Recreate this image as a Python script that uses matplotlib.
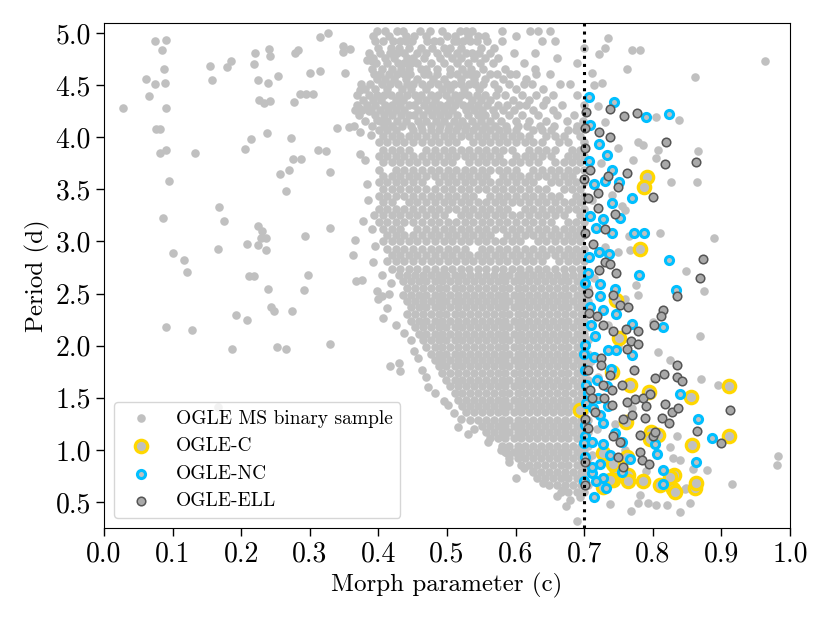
import numpy as np
import matplotlib
matplotlib.use("Agg")
from matplotlib import pyplot as plt
from matplotlib.ticker import FormatStrFormatter

plt.rcParams['font.family'] = 'serif'
plt.rcParams['font.serif'] = ['cmr10']
plt.rcParams['mathtext.fontset'] = 'cm'
plt.rcParams['axes.unicode_minus'] = False

# --- OGLE MS binary sample (morph c, period d) ---
# sparse part at low morph parameter
sample_left = [
    (0.074, 4.92), (0.091, 4.93), (0.084, 4.84), (0.087, 4.66), (0.061, 4.56), (0.074, 4.51),
    (0.089, 4.52), (0.066, 4.40), (0.028, 4.28), (0.091, 4.28), (0.076, 4.08), (0.082, 4.08),
    (0.082, 3.85), (0.091, 3.88), (0.133, 3.85), (0.095, 3.58), (0.086, 3.23), (0.168, 3.33),
    (0.175, 3.20), (0.100, 2.89), (0.116, 2.82), (0.121, 2.71), (0.090, 2.18), (0.129, 2.15),
    (0.186, 1.97), (0.252, 1.99), (0.266, 1.97), (0.329, 2.02), (0.192, 2.29), (0.209, 2.25),
    (0.243, 2.37), (0.248, 2.33), (0.274, 2.33), (0.239, 2.54), (0.292, 2.53), (0.212, 2.67),
    (0.219, 2.67), (0.297, 2.68), (0.166, 2.93), (0.209, 2.98), (0.225, 2.97), (0.236, 2.92),
    (0.225, 3.15), (0.231, 3.10), (0.229, 3.03), (0.236, 3.03), (0.293, 3.05), (0.329, 3.13),
    (0.366, 3.01), (0.363, 2.87), (0.367, 2.62), (0.376, 2.63), (0.400, 2.45), (0.390, 3.12),
    (0.394, 3.25), (0.395, 2.96), (0.205, 3.89), (0.214, 3.98), (0.237, 4.04), (0.272, 3.99),
    (0.276, 3.79), (0.287, 3.79), (0.257, 3.65), (0.269, 3.69), (0.265, 3.48), (0.312, 3.88),
    (0.323, 3.87), (0.330, 3.67), (0.339, 4.09), (0.357, 4.10), (0.373, 4.05), (0.389, 4.02),
    (0.373, 3.84), (0.380, 3.78), (0.383, 3.55), (0.154, 4.68), (0.158, 4.55), (0.180, 4.67),
    (0.185, 4.73), (0.220, 4.81), (0.219, 4.70), (0.240, 4.85), (0.242, 4.78), (0.225, 4.55),
    (0.239, 4.52), (0.253, 4.59), (0.226, 4.36), (0.233, 4.33), (0.242, 4.35), (0.277, 4.34),
    (0.278, 4.81), (0.283, 4.84), (0.285, 4.42), (0.294, 4.42), (0.304, 4.42), (0.301, 4.62),
    (0.315, 4.64), (0.315, 4.96), (0.327, 5.00), (0.349, 4.88), (0.348, 4.82), (0.358, 4.85),
    (0.352, 4.62), (0.373, 4.45), (0.366, 4.26), (0.372, 4.28), (0.386, 4.25), (0.384, 4.74),
    (0.390, 4.73), (0.398, 4.17), (0.166, 1.41), (0.385, 3.40), (0.378, 3.20), (0.392, 2.80),
]

# stray points along the left edge of the dense core
sample_edge = [
    (0.405, 2.48), (0.398, 2.52), (0.415, 2.50), (0.407, 2.27), (0.412, 2.36), (0.417, 1.80),
    (0.430, 1.83), (0.432, 1.76), (0.463, 1.77), (0.452, 1.95), (0.448, 2.05), (0.501, 1.43),
    (0.495, 1.47), (0.516, 1.22), (0.520, 1.30), (0.560, 1.08), (0.587, 0.97), (0.600, 0.73),
    (0.612, 0.83), (0.625, 0.80), (0.640, 0.68), (0.669, 0.61), (0.673, 0.46), (0.689, 0.32),
    (0.540, 1.20), (0.578, 1.00), (0.472, 1.60), (0.482, 1.55), (0.425, 2.20), (0.438, 2.12),
    (0.458, 1.88), (0.470, 1.70), (0.510, 1.35), (0.530, 1.15), (0.590, 0.88), (0.680, 0.52),
    (0.694, 0.55), (0.660, 0.56), (0.418, 2.60), (0.405, 2.68),
]

# sample points to the right of the c = 0.7 line
sample_right = [
    (0.726, 4.52), (0.805, 4.19), (0.838, 4.17), (0.778, 3.95), (0.785, 3.93), (0.808, 3.88),
    (0.866, 3.87), (0.771, 3.78), (0.805, 3.80), (0.826, 3.57), (0.864, 3.57), (0.755, 3.34),
    (0.811, 3.08), (0.889, 3.03), (0.765, 3.05), (0.767, 2.92), (0.750, 2.90), (0.848, 2.72),
    (0.776, 2.58), (0.875, 2.52), (0.779, 2.49), (0.800, 2.23), (0.869, 2.09), (0.825, 1.86),
    (0.808, 1.94), (0.870, 1.68), (0.895, 1.62), (0.835, 1.13), (0.825, 1.03), (0.879, 0.81),
    (0.738, 0.48), (0.779, 0.49), (0.793, 0.49), (0.847, 0.62), (0.964, 4.73), (0.862, 4.58),
    (0.768, 0.41), (0.781, 0.57), (0.805, 0.47), (0.820, 0.47), (0.840, 0.40), (0.854, 0.49),
    (0.849, 0.63), (0.916, 0.67), (0.829, 0.92), (0.840, 0.90), (0.859, 0.82), (0.982, 0.94),
    (0.981, 0.85), (0.712, 4.62), (0.722, 4.80), (0.735, 4.95), (0.762, 4.66), (0.730, 4.86),
    (0.770, 4.84), (0.782, 4.84), (0.715, 4.50), (0.720, 4.30), (0.730, 4.15), (0.750, 3.90),
    (0.725, 3.75), (0.740, 3.45), (0.760, 3.30), (0.730, 2.95), (0.715, 2.65), (0.760, 2.45),
    (0.735, 2.20), (0.750, 2.00), (0.720, 1.70), (0.770, 1.40), (0.745, 1.25), (0.730, 0.90),
    (0.760, 1.00), (0.790, 0.80), (0.712, 0.95), (0.718, 1.20), (0.710, 1.85), (0.712, 3.40),
]

# upper, moderately filled part (period 4.1 - 5.0): rows of (period, [morph values])
sample_upper_rows = [
    (5.02, [0.398, 0.410, 0.427, 0.436, 0.461, 0.475, 0.492, 0.519, 0.527, 0.536, 0.580, 0.621, 0.633, 0.650]),
    (4.97, [0.392, 0.415, 0.440, 0.452, 0.470, 0.500, 0.512, 0.530, 0.545, 0.556, 0.600]),
    (4.92, [0.395, 0.407, 0.422, 0.432, 0.440, 0.449, 0.471, 0.481, 0.490, 0.510, 0.515, 0.524, 0.534,
            0.544, 0.558, 0.580, 0.638, 0.658]),
    (4.86, [0.400, 0.418, 0.430, 0.445, 0.462, 0.478, 0.495, 0.505, 0.520, 0.550, 0.568, 0.700]),
    (4.81, [0.386, 0.403, 0.417, 0.427, 0.437, 0.456, 0.470, 0.485, 0.500, 0.514, 0.527, 0.536, 0.546,
            0.563, 0.597, 0.628]),
    (4.76, [0.392, 0.410, 0.423, 0.442, 0.450, 0.466, 0.490, 0.508, 0.520, 0.540, 0.555, 0.575, 0.660]),
    (4.71, [0.396, 0.413, 0.428, 0.437, 0.447, 0.456, 0.476, 0.495, 0.515, 0.530, 0.548, 0.567, 0.612, 0.690]),
    (4.66, [0.390, 0.405, 0.420, 0.433, 0.445, 0.462, 0.470, 0.486, 0.505, 0.522, 0.535, 0.552, 0.585, 0.628]),
    (4.61, [0.393, 0.402, 0.416, 0.427, 0.437, 0.446, 0.466, 0.473, 0.485, 0.505, 0.514, 0.527, 0.534,
            0.543, 0.563, 0.573, 0.592, 0.601, 0.630, 0.650]),
    (4.56, [0.398, 0.410, 0.423, 0.440, 0.456, 0.480, 0.495, 0.520, 0.540, 0.555, 0.582, 0.615]),
    (4.51, [0.374, 0.388, 0.405, 0.417, 0.429, 0.441, 0.451, 0.463, 0.475, 0.487, 0.500, 0.510, 0.520,
            0.532, 0.541, 0.553, 0.569, 0.590, 0.612, 0.624, 0.665, 0.680]),
    (4.46, [0.380, 0.395, 0.412, 0.434, 0.447, 0.470, 0.493, 0.505, 0.525, 0.546, 0.575, 0.600, 0.640]),
    (4.41, [0.369, 0.386, 0.398, 0.408, 0.419, 0.430, 0.441, 0.453, 0.462, 0.476, 0.487, 0.498, 0.511,
            0.521, 0.531, 0.544, 0.556, 0.571, 0.584, 0.610, 0.630, 0.655, 0.690]),
    (4.36, [0.377, 0.392, 0.404, 0.425, 0.436, 0.458, 0.470, 0.482, 0.504, 0.516, 0.537, 0.550, 0.563,
            0.596, 0.620, 0.645]),
    (4.31, [0.369, 0.383, 0.395, 0.410, 0.420, 0.431, 0.445, 0.452, 0.466, 0.478, 0.490, 0.500, 0.512,
            0.523, 0.533, 0.545, 0.558, 0.575, 0.588, 0.605, 0.615, 0.640, 0.668, 0.700]),
    (4.26, [0.376, 0.389, 0.402, 0.414, 0.426, 0.438, 0.458, 0.472, 0.484, 0.496, 0.507, 0.527, 0.540,
            0.551, 0.567, 0.582, 0.598, 0.625, 0.655]),
    (4.21, [0.372, 0.395, 0.408, 0.420, 0.433, 0.445, 0.452, 0.465, 0.478, 0.490, 0.502, 0.515, 0.530,
            0.545, 0.556, 0.570, 0.590, 0.610, 0.632, 0.660, 0.685]),
    (4.16, [0.380, 0.402, 0.413, 0.427, 0.440, 0.458, 0.470, 0.484, 0.496, 0.510, 0.522, 0.537, 0.550,
            0.563, 0.578, 0.600, 0.620, 0.645, 0.675, 0.698]),
    (4.11, [0.364, 0.390, 0.408, 0.420, 0.434, 0.447, 0.462, 0.476, 0.490, 0.503, 0.516, 0.528, 0.543,
            0.556, 0.570, 0.586, 0.604, 0.617, 0.636, 0.656, 0.690]),
]

# middle, densely filled part (period 2.7 - 4.07)
sample_mid_rows = [
    (4.07, [0.401, 0.413, 0.426, 0.451, 0.463, 0.476, 0.488, 0.501, 0.513, 0.526, 0.538, 0.551, 0.563,
            0.576, 0.588, 0.601, 0.626, 0.638, 0.651, 0.676, 0.688]),
    (4.01, [0.407, 0.420, 0.432, 0.445, 0.457, 0.470, 0.482, 0.495, 0.507, 0.520, 0.532, 0.545, 0.557,
            0.570, 0.582, 0.595, 0.607, 0.620, 0.645, 0.657, 0.670, 0.694]),
    (3.95, [0.401, 0.413, 0.426, 0.438, 0.451, 0.463, 0.476, 0.488, 0.501, 0.513, 0.538, 0.551, 0.563,
            0.576, 0.588, 0.601, 0.613, 0.626, 0.638, 0.663, 0.676, 0.700]),
    (3.88, [0.407, 0.420, 0.432, 0.445, 0.470, 0.482, 0.495, 0.507, 0.520, 0.532, 0.545, 0.557, 0.570,
            0.582, 0.595, 0.620, 0.632, 0.645, 0.657, 0.682, 0.694]),
    (3.82, [0.401, 0.413, 0.426, 0.438, 0.451, 0.463, 0.476, 0.488, 0.501, 0.513, 0.526, 0.538, 0.551,
            0.563, 0.576, 0.601, 0.613, 0.626, 0.638, 0.651, 0.676, 0.688, 0.700]),
    (3.76, [0.407, 0.420, 0.432, 0.445, 0.457, 0.470, 0.482, 0.495, 0.507, 0.532, 0.545, 0.557, 0.570,
            0.582, 0.595, 0.607, 0.620, 0.632, 0.657, 0.670, 0.682, 0.694]),
    (3.69, [0.401, 0.426, 0.438, 0.451, 0.463, 0.476, 0.488, 0.501, 0.513, 0.526, 0.538, 0.551, 0.563,
            0.576, 0.588, 0.601, 0.626, 0.638, 0.651, 0.663, 0.676, 0.688, 0.700]),
    (3.63, [0.407, 0.420, 0.432, 0.445, 0.457, 0.470, 0.482, 0.495, 0.507, 0.520, 0.532, 0.545, 0.557,
            0.582, 0.595, 0.607, 0.620, 0.632, 0.645, 0.657, 0.670, 0.682]),
    (3.57, [0.401, 0.413, 0.426, 0.438, 0.451, 0.463, 0.488, 0.501, 0.513, 0.526, 0.538, 0.551, 0.563,
            0.576, 0.588, 0.601, 0.613, 0.626, 0.651, 0.663, 0.676, 0.688, 0.700]),
    (3.50, [0.407, 0.420, 0.432, 0.445, 0.457, 0.470, 0.482, 0.495, 0.507, 0.520, 0.532, 0.545, 0.557,
            0.570, 0.582, 0.595, 0.607, 0.620, 0.632, 0.645, 0.670, 0.682, 0.694]),
    (3.44, [0.401, 0.413, 0.426, 0.438, 0.451, 0.463, 0.476, 0.488, 0.501, 0.513, 0.526, 0.538, 0.563,
            0.576, 0.588, 0.601, 0.613, 0.626, 0.638, 0.651, 0.663, 0.688, 0.700]),
    (3.38, [0.407, 0.420, 0.445, 0.457, 0.470, 0.482, 0.495, 0.507, 0.520, 0.532, 0.545, 0.557, 0.570,
            0.582, 0.595, 0.607, 0.620, 0.632, 0.645, 0.657, 0.670, 0.682, 0.694]),
    (3.31, [0.401, 0.413, 0.426, 0.438, 0.451, 0.463, 0.476, 0.488, 0.501, 0.513, 0.526, 0.538, 0.551,
            0.563, 0.576, 0.588, 0.613, 0.626, 0.638, 0.651, 0.663, 0.676, 0.688, 0.700]),
    (3.25, [0.407, 0.420, 0.432, 0.445, 0.457, 0.470, 0.482, 0.495, 0.520, 0.532, 0.545, 0.557, 0.570,
            0.582, 0.595, 0.607, 0.620, 0.632, 0.645, 0.657, 0.670, 0.694]),
    (3.19, [0.401, 0.413, 0.426, 0.438, 0.451, 0.463, 0.476, 0.488, 0.501, 0.513, 0.526, 0.538, 0.551,
            0.563, 0.576, 0.588, 0.601, 0.613, 0.626, 0.638, 0.651, 0.676, 0.688, 0.700]),
    (3.12, [0.407, 0.420, 0.432, 0.457, 0.470, 0.482, 0.495, 0.507, 0.520, 0.532, 0.545, 0.557, 0.570,
            0.582, 0.595, 0.607, 0.620, 0.632, 0.645, 0.657, 0.670, 0.682, 0.694]),
    (3.06, [0.413, 0.426, 0.438, 0.451, 0.463, 0.476, 0.488, 0.501, 0.513, 0.526, 0.538, 0.551, 0.563,
            0.588, 0.601, 0.613, 0.626, 0.638, 0.651, 0.663, 0.676, 0.688, 0.700]),
    (3.00, [0.407, 0.420, 0.432, 0.445, 0.457, 0.470, 0.482, 0.495, 0.507, 0.520, 0.532, 0.545, 0.557,
            0.570, 0.582, 0.595, 0.607, 0.632, 0.645, 0.657, 0.670, 0.682, 0.694]),
    (2.93, [0.413, 0.426, 0.438, 0.451, 0.463, 0.476, 0.488, 0.501, 0.513, 0.526, 0.551, 0.563, 0.576,
            0.588, 0.601, 0.613, 0.626, 0.638, 0.651, 0.663, 0.676, 0.688, 0.700]),
    (2.87, [0.420, 0.432, 0.445, 0.457, 0.470, 0.482, 0.495, 0.507, 0.520, 0.532, 0.545, 0.557, 0.570,
            0.582, 0.595, 0.607, 0.620, 0.632, 0.645, 0.657, 0.670, 0.682, 0.694]),
    (2.81, [0.413, 0.426, 0.438, 0.451, 0.463, 0.476, 0.488, 0.501, 0.513, 0.526, 0.538, 0.551, 0.563,
            0.576, 0.588, 0.601, 0.613, 0.626, 0.638, 0.663, 0.676, 0.688, 0.700]),
    (2.74, [0.420, 0.432, 0.445, 0.457, 0.470, 0.482, 0.495, 0.507, 0.520, 0.532, 0.545, 0.557, 0.570,
            0.582, 0.595, 0.607, 0.620, 0.632, 0.645, 0.657, 0.670, 0.682, 0.694]),
]

# lower core, nearly solid (period 0.6 - 2.7)
sample_core_rows = [
    (2.68, [0.430, 0.442, 0.453, 0.465, 0.476, 0.488, 0.499, 0.511, 0.522, 0.534, 0.545, 0.557, 0.568,
            0.580, 0.591, 0.603, 0.614, 0.626, 0.637, 0.649, 0.660, 0.672, 0.683, 0.695, 0.705]),
    (2.62, [0.436, 0.447, 0.459, 0.470, 0.482, 0.493, 0.505, 0.516, 0.528, 0.539, 0.551, 0.562, 0.574,
            0.585, 0.597, 0.608, 0.620, 0.631, 0.643, 0.654, 0.666, 0.677, 0.689, 0.700]),
    (2.55, [0.442, 0.453, 0.465, 0.476, 0.488, 0.499, 0.511, 0.522, 0.534, 0.545, 0.557, 0.568, 0.580,
            0.591, 0.603, 0.614, 0.626, 0.637, 0.649, 0.660, 0.672, 0.683, 0.695, 0.705]),
    (2.49, [0.436, 0.447, 0.459, 0.470, 0.482, 0.493, 0.505, 0.516, 0.528, 0.539, 0.551, 0.562, 0.574,
            0.585, 0.597, 0.608, 0.620, 0.631, 0.643, 0.654, 0.666, 0.677, 0.689, 0.700]),
    (2.43, [0.442, 0.453, 0.465, 0.476, 0.488, 0.499, 0.511, 0.522, 0.534, 0.545, 0.557, 0.568, 0.580,
            0.591, 0.603, 0.614, 0.626, 0.637, 0.649, 0.660, 0.672, 0.683, 0.695, 0.705]),
    (2.37, [0.447, 0.459, 0.470, 0.482, 0.493, 0.505, 0.516, 0.528, 0.539, 0.551, 0.562, 0.574, 0.585,
            0.597, 0.608, 0.620, 0.631, 0.643, 0.654, 0.666, 0.677, 0.689, 0.700]),
    (2.30, [0.442, 0.453, 0.465, 0.476, 0.488, 0.499, 0.511, 0.522, 0.534, 0.545, 0.557, 0.568, 0.580,
            0.591, 0.603, 0.614, 0.626, 0.637, 0.649, 0.660, 0.672, 0.683, 0.695, 0.705]),
    (2.24, [0.447, 0.459, 0.470, 0.482, 0.493, 0.505, 0.516, 0.528, 0.539, 0.551, 0.562, 0.574, 0.585,
            0.597, 0.608, 0.620, 0.631, 0.643, 0.654, 0.666, 0.677, 0.689, 0.700]),
    (2.18, [0.453, 0.465, 0.476, 0.488, 0.499, 0.511, 0.522, 0.534, 0.545, 0.557, 0.568, 0.580, 0.591,
            0.603, 0.614, 0.626, 0.637, 0.649, 0.660, 0.672, 0.683, 0.695, 0.705]),
    (2.11, [0.459, 0.470, 0.482, 0.493, 0.505, 0.516, 0.528, 0.539, 0.551, 0.562, 0.574, 0.585, 0.597,
            0.608, 0.620, 0.631, 0.643, 0.654, 0.666, 0.677, 0.689, 0.700]),
    (2.05, [0.465, 0.476, 0.488, 0.499, 0.511, 0.522, 0.534, 0.545, 0.557, 0.568, 0.580, 0.591, 0.603,
            0.614, 0.626, 0.637, 0.649, 0.660, 0.672, 0.683, 0.695, 0.705]),
    (1.99, [0.470, 0.482, 0.493, 0.505, 0.516, 0.528, 0.539, 0.551, 0.562, 0.574, 0.585, 0.597, 0.608,
            0.620, 0.631, 0.643, 0.654, 0.666, 0.677, 0.689, 0.700]),
    (1.92, [0.476, 0.488, 0.499, 0.511, 0.522, 0.534, 0.545, 0.557, 0.568, 0.580, 0.591, 0.603, 0.614,
            0.626, 0.637, 0.649, 0.660, 0.672, 0.683, 0.695, 0.705]),
    (1.86, [0.482, 0.493, 0.505, 0.516, 0.528, 0.539, 0.551, 0.562, 0.574, 0.585, 0.597, 0.608, 0.620,
            0.631, 0.643, 0.654, 0.666, 0.677, 0.689, 0.700]),
    (1.80, [0.488, 0.499, 0.511, 0.522, 0.534, 0.545, 0.557, 0.568, 0.580, 0.591, 0.603, 0.614, 0.626,
            0.637, 0.649, 0.660, 0.672, 0.683, 0.695, 0.705]),
    (1.74, [0.493, 0.505, 0.516, 0.528, 0.539, 0.551, 0.562, 0.574, 0.585, 0.597, 0.608, 0.620, 0.631,
            0.643, 0.654, 0.666, 0.677, 0.689, 0.700]),
    (1.67, [0.499, 0.511, 0.522, 0.534, 0.545, 0.557, 0.568, 0.580, 0.591, 0.603, 0.614, 0.626, 0.637,
            0.649, 0.660, 0.672, 0.683, 0.695, 0.705]),
    (1.61, [0.505, 0.516, 0.528, 0.539, 0.551, 0.562, 0.574, 0.585, 0.597, 0.608, 0.620, 0.631, 0.643,
            0.654, 0.666, 0.677, 0.689, 0.700]),
    (1.55, [0.511, 0.522, 0.534, 0.545, 0.557, 0.568, 0.580, 0.591, 0.603, 0.614, 0.626, 0.637, 0.649,
            0.660, 0.672, 0.683, 0.695, 0.705]),
    (1.48, [0.516, 0.528, 0.539, 0.551, 0.562, 0.574, 0.585, 0.597, 0.608, 0.620, 0.631, 0.643, 0.654,
            0.666, 0.677, 0.689, 0.700]),
    (1.42, [0.522, 0.534, 0.545, 0.557, 0.568, 0.580, 0.591, 0.603, 0.614, 0.626, 0.637, 0.649, 0.660,
            0.672, 0.683, 0.695, 0.705]),
    (1.36, [0.528, 0.539, 0.551, 0.562, 0.574, 0.585, 0.597, 0.608, 0.620, 0.631, 0.643, 0.654, 0.666,
            0.677, 0.689, 0.700]),
    (1.29, [0.534, 0.545, 0.557, 0.568, 0.580, 0.591, 0.603, 0.614, 0.626, 0.637, 0.649, 0.660, 0.672,
            0.683, 0.695, 0.705]),
    (1.23, [0.551, 0.562, 0.574, 0.585, 0.597, 0.608, 0.620, 0.631, 0.643, 0.654, 0.666, 0.677, 0.689, 0.700]),
    (1.17, [0.557, 0.568, 0.580, 0.591, 0.603, 0.614, 0.626, 0.637, 0.649, 0.660, 0.672, 0.683, 0.695, 0.705]),
    (1.11, [0.562, 0.574, 0.585, 0.597, 0.608, 0.620, 0.631, 0.643, 0.654, 0.666, 0.677, 0.689, 0.700]),
    (1.04, [0.580, 0.591, 0.603, 0.614, 0.626, 0.637, 0.649, 0.660, 0.672, 0.683, 0.695, 0.705]),
    (0.98, [0.585, 0.597, 0.608, 0.620, 0.631, 0.643, 0.654, 0.666, 0.677, 0.689, 0.700]),
    (0.92, [0.591, 0.603, 0.614, 0.626, 0.637, 0.649, 0.660, 0.672, 0.683, 0.695, 0.705]),
    (0.85, [0.608, 0.620, 0.631, 0.643, 0.654, 0.666, 0.677, 0.689, 0.700]),
    (0.79, [0.626, 0.637, 0.649, 0.660, 0.672, 0.683, 0.695, 0.705]),
    (0.73, [0.631, 0.643, 0.654, 0.666, 0.677, 0.689, 0.700]),
    (0.66, [0.649, 0.660, 0.672, 0.683, 0.695, 0.705]),
    (0.60, [0.666, 0.677, 0.689, 0.700]),
]

# --- OGLE classified systems (morph c, period d) ---
ogle_c = [
    (0.792, 3.62), (0.787, 3.52), (0.782, 2.93), (0.747, 2.44), (0.751, 2.07), (0.767, 1.62),
    (0.794, 1.56), (0.855, 1.51), (0.911, 1.61), (0.761, 1.27), (0.807, 1.14), (0.798, 1.17),
    (0.857, 1.05), (0.911, 1.13), (0.694, 1.38), (0.728, 0.97), (0.747, 0.83), (0.742, 0.86),
    (0.762, 0.93), (0.764, 0.76), (0.742, 0.71), (0.764, 0.70), (0.786, 0.70), (0.810, 0.66),
    (0.831, 0.76), (0.830, 0.62), (0.862, 0.63), (0.863, 0.68), (0.737, 0.71), (0.728, 0.64),
    (0.825, 0.74), (0.832, 0.60), (0.796, 1.10), (0.740, 1.75),
]

ogle_nc = [
    (0.707, 4.39), (0.744, 4.34), (0.790, 4.19), (0.824, 4.22), (0.709, 4.12), (0.722, 3.94),
    (0.733, 3.83), (0.707, 3.77), (0.741, 3.69), (0.714, 3.55), (0.731, 3.58), (0.751, 3.57),
    (0.770, 3.42), (0.741, 3.37), (0.708, 3.24), (0.727, 3.22), (0.717, 3.13), (0.752, 3.23),
    (0.741, 3.08), (0.772, 3.08), (0.787, 3.08), (0.722, 2.90), (0.736, 2.88), (0.707, 2.85),
    (0.823, 2.82), (0.780, 2.68), (0.705, 2.70), (0.723, 2.59), (0.701, 2.60), (0.745, 2.54),
    (0.834, 2.53), (0.723, 2.48), (0.708, 2.37), (0.728, 2.34), (0.747, 2.30), (0.769, 2.21),
    (0.815, 2.18), (0.716, 2.09), (0.701, 2.01), (0.734, 1.96), (0.747, 1.96), (0.770, 1.91),
    (0.714, 1.89), (0.701, 1.77), (0.739, 1.78), (0.718, 1.67), (0.702, 1.62), (0.733, 1.61),
    (0.840, 1.54), (0.703, 1.45), (0.723, 1.33), (0.701, 1.24), (0.728, 1.26), (0.745, 1.16),
    (0.755, 1.08), (0.711, 1.08), (0.701, 1.13), (0.728, 1.06), (0.803, 1.06), (0.806, 0.96),
    (0.767, 0.91), (0.701, 0.93), (0.723, 0.86), (0.815, 0.81), (0.755, 0.79), (0.711, 0.78),
    (0.728, 0.73), (0.700, 0.70), (0.815, 0.67), (0.732, 0.63), (0.714, 0.55), (0.863, 0.88),
    (0.866, 1.30), (0.887, 1.11), (0.738, 0.95), (0.717, 0.70), (0.711, 0.84), (0.699, 1.07),
    (0.713, 1.40), (0.705, 1.55), (0.720, 1.50), (0.735, 1.42), (0.710, 2.20), (0.700, 1.92),
]

ogle_ell = [
    (0.702, 4.24), (0.738, 4.27), (0.758, 4.20), (0.777, 4.23), (0.701, 4.09), (0.722, 4.05),
    (0.738, 4.00), (0.819, 3.95), (0.818, 3.74), (0.863, 3.76), (0.709, 3.69), (0.763, 3.66),
    (0.734, 3.63), (0.750, 3.52), (0.720, 3.47), (0.705, 3.42), (0.800, 3.43), (0.720, 3.32),
    (0.745, 3.26), (0.731, 3.12), (0.701, 3.08), (0.713, 2.98), (0.730, 2.80), (0.737, 2.78),
    (0.722, 2.73), (0.746, 2.70), (0.873, 2.83), (0.869, 2.65), (0.705, 2.51), (0.742, 2.49),
    (0.836, 2.48), (0.701, 3.90), (0.700, 3.60), (0.752, 2.39), (0.764, 2.37), (0.815, 2.34),
    (0.812, 2.28), (0.802, 2.20), (0.707, 2.31), (0.718, 2.28), (0.728, 2.20), (0.742, 2.14),
    (0.761, 2.16), (0.779, 2.14), (0.768, 2.04), (0.779, 2.02), (0.762, 1.97), (0.725, 1.88),
    (0.705, 1.77), (0.724, 1.81), (0.737, 1.72), (0.772, 1.77), (0.803, 1.69), (0.816, 1.73),
    (0.836, 1.81), (0.836, 1.70), (0.842, 1.66), (0.709, 1.57), (0.728, 1.62), (0.740, 1.57),
    (0.712, 1.50), (0.729, 1.50), (0.755, 1.62), (0.740, 1.43), (0.762, 1.46), (0.774, 1.49),
    (0.786, 1.50), (0.790, 1.42), (0.796, 1.54), (0.818, 1.44), (0.828, 1.36), (0.837, 1.40),
    (0.813, 1.31), (0.823, 1.26), (0.789, 1.31), (0.769, 1.33), (0.756, 1.30), (0.716, 1.36),
    (0.701, 1.30), (0.705, 1.21), (0.742, 1.13), (0.782, 1.14), (0.801, 1.13), (0.803, 1.17),
    (0.781, 0.98), (0.784, 0.90), (0.795, 0.86), (0.750, 0.93), (0.756, 0.84), (0.701, 0.88),
    (0.701, 0.66), (0.864, 1.18), (0.913, 1.38), (0.899, 1.07), (0.752, 1.08),
]

# collect the sample into flat arrays
sample_pts = sample_left + sample_edge + sample_right
for rows in (sample_upper_rows, sample_mid_rows, sample_core_rows):
    for per, cs in rows:
        sample_pts += [(c, per) for c in cs]
sample = np.array(sample_pts)
occ = np.array(ogle_c)
onc = np.array(ogle_nc)
oell = np.array(ogle_ell)

fig, ax = plt.subplots(figsize=(8.3, 6.23), dpi=100)
fig.subplots_adjust(left=0.1253, right=0.9518, bottom=0.1525, top=0.9636)

ax.scatter(sample[:, 0], sample[:, 1], s=38, color='#c0c0c0', linewidths=0,
           label='OGLE MS binary sample', zorder=1)
ax.scatter(occ[:, 0], occ[:, 1], s=80, facecolor='#c0c0c0', edgecolor='#ffd700',
           linewidths=2.3, label='OGLE-C', zorder=2)
ax.scatter(onc[:, 0], onc[:, 1], s=34, facecolor='#c0c0c0', edgecolor='#00bfff',
           linewidths=2.2, label='OGLE-NC', zorder=3)
ax.scatter(oell[:, 0], oell[:, 1], s=38, facecolor='#a9a9a9', edgecolor='#555555',
           linewidths=1.1, label='OGLE-ELL', zorder=4)

# morph parameter cut
ax.axvline(0.7, color='k', ls=':', lw=2.2, zorder=5)

ax.set_xlim(0.0, 1.0)
ax.set_ylim(0.25, 5.1)
ax.set_xticks(np.arange(0.0, 1.01, 0.1))
ax.set_yticks(np.arange(0.5, 5.01, 0.5))
ax.xaxis.set_major_formatter(FormatStrFormatter('%.1f'))
ax.yaxis.set_major_formatter(FormatStrFormatter('%.1f'))
ax.tick_params(labelsize=20, length=6, width=1)

ax.set_xlabel('Morph parameter (c)', fontsize=18)
ax.set_ylabel('Period (d)', fontsize=18)
ax.legend(loc='lower left', fontsize=14)

plt.savefig('out.png', dpi=100)
